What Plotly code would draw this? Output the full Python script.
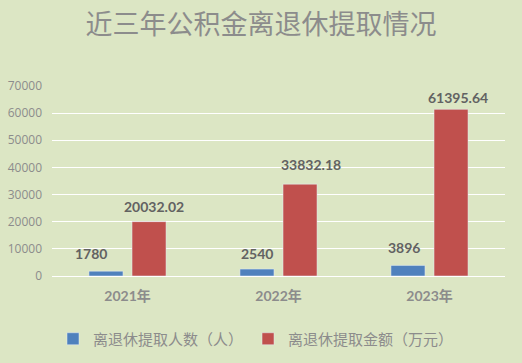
import plotly.graph_objects as go

categories = ["2021年", "2022年", "2023年"]
people = [1780, 2540, 3896]
amount = [20032.02, 33832.18, 61395.64]
people_labels = ["1780", "2540", "3896"]
amount_labels = ["20032.02", "33832.18", "61395.64"]
series_names = ["离退休提取人数（人）", "离退休提取金额（万元）"]
y_ticks = [0, 10000, 20000, 30000, 40000, 50000, 60000, 70000]
title_text = "近三年公积金离退休提取情况"

BLUE = "#4F81BD"
RED = "#C0504D"
BG = "#DCE6C4"
GRAY = "#8C8C8C"
LABEL = "#626262"

fig = go.Figure()
fig.add_trace(go.Bar(x=categories, y=people, name=series_names[0], marker_color=BLUE))
fig.add_trace(go.Bar(x=categories, y=amount, name=series_names[1], marker_color=RED))

# label offsets (px) relative to category center / value
people_off = [(-37, 18), (-22, 16), (-26, 18)]
amount_off = [(26, 15), (32, 20), (28, 12)]
annots = []
for c, v, t, (dx, dy) in zip(categories, people, people_labels, people_off):
    annots.append(dict(x=c, y=v, text=t, xref="x", yref="y", showarrow=False,
                       xshift=dx, yshift=dy, yanchor="middle",
                       font=dict(family="Lato, Open Sans", size=14, color=LABEL, weight="bold")))
for c, v, t, (dx, dy) in zip(categories, amount, amount_labels, amount_off):
    annots.append(dict(x=c, y=v, text=t, xref="x", yref="y", showarrow=False,
                       xshift=dx, yshift=dy, yanchor="middle",
                       font=dict(family="Lato, Open Sans", size=14, color=LABEL, weight="bold")))

fig.update_layout(
    width=522, height=363,
    paper_bgcolor=BG, plot_bgcolor=BG,
    margin=dict(l=52, r=17, t=86, b=87, autoexpand=False),
    barmode="group", bargap=0.43, bargroupgap=0.21,
    title=dict(text=title_text, x=0.5, xanchor="center", y=1 - 25 / 363, yanchor="middle",
               font=dict(family="Noto Sans CJK SC", size=27, color=GRAY)),
    showlegend=True,
    legend=dict(orientation="h", x=(256 - 52) / 453, xanchor="center",
                y=-(339 - 276) / 190, yanchor="middle",
                font=dict(family="Noto Sans CJK SC", size=15, color=GRAY),
                bgcolor="rgba(0,0,0,0)"),
    annotations=annots,
    xaxis=dict(type="category", showgrid=False, showline=False, ticks="", ticklabelstandoff=10,
               tickfont=dict(family="Lato, Noto Sans CJK SC", size=14, color=GRAY, weight="bold")),
    yaxis=dict(range=[0, 70000], tickvals=y_ticks, tickformat="d", showgrid=True, gridcolor="white",
               gridwidth=1.3, zeroline=True, zerolinecolor="white", zerolinewidth=1.3,
               ticks="", ticklabelstandoff=9,
               tickfont=dict(family="Open Sans", size=12, color=GRAY)),
)
fig.write_html("out.html", config={"displayModeBar": False},
               post_script="document.body.style.margin='0';")
